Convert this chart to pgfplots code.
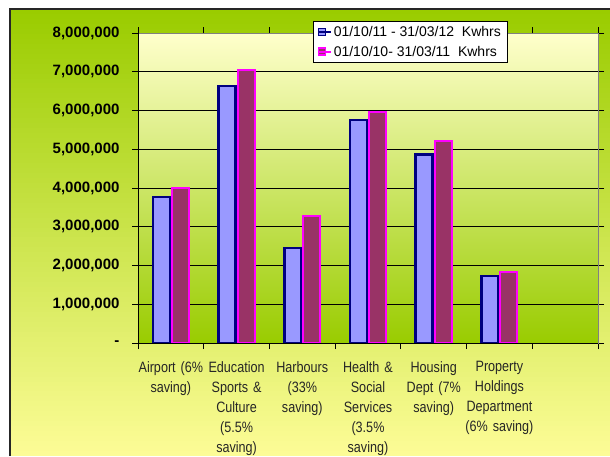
\documentclass[border=0pt]{standalone}
\usepackage{pgfplots}
\pgfplotsset{compat=1.18}
\usepackage{fontspec}
\setmainfont{Liberation Sans}
\newfontfamily\narrowfont[FakeStretch=0.84]{Liberation Sans}
\definecolor{outertop}{HTML}{9ACC00}
\definecolor{outerbot}{HTML}{FCFC96}
\definecolor{plottop}{HTML}{FFFFCC}
\definecolor{plotbot}{HTML}{99CC00}
\definecolor{bluefill}{HTML}{9999FF}
\definecolor{blueline}{HTML}{000080}
\definecolor{redfill}{HTML}{993366}
\definecolor{redline}{HTML}{FF00FF}
\begin{document}
\begin{tikzpicture}[x=1pt,y=1pt]
\path[use as bounding box] (0,0) rectangle (610,456);
\fill[white] (0,0) rectangle (610,456);
\foreach \i in {0,...,89} {
  \pgfmathsetmacro\p{100*\i/89}
  \pgfmathsetmacro\ya{\i*4.9667}
  \pgfmathsetmacro\yb{(\i+1)*4.9667+0.6}
  \fill[outertop!\p!outerbot] (10,\ya) rectangle (610,\yb);
}
\draw[black!85, line width=1.3pt] (10,0) -- (10,447) -- (610,447);
\begin{axis}[
  at={(138pt,113pt)}, anchor=south west,
  width=460pt, height=310pt, scale only axis,
  axis background/.style={shade, top color=plottop, bottom color=plotbot},
  axis line style={black!50, line width=0.8pt},
  ybar=2pt, bar width=17pt,
  xmin=-0.5, xmax=6.5, ymin=0, ymax=8000000,
  xtick={-0.5,0.5,...,6.5}, xticklabels={},
  extra x ticks={0,1,2,3,4,5},
  extra x tick labels={{Airport (6\%\\saving)},{Education\\Sports \&\\Culture\\(5.5\%\\saving)},{Harbours\\(33\%\\saving)},{Health \&\\Social\\Services\\(3.5\%\\saving)},{Housing\\Dept (7\%\\saving)},{Property\\Holdings\\Department\\(6\% saving)}},
  extra x tick style={major tick length=0pt, grid=none, xticklabel style={align=center, text width=72pt, font=\narrowfont\fontsize{15}{20}\selectfont, text=black!85, yshift=-15pt}},
  ytick={0,1000000,2000000,3000000,4000000,5000000,6000000,7000000,8000000},
  yticklabels={-,{1,000,000},{2,000,000},{3,000,000},{4,000,000},{5,000,000},{6,000,000},{7,000,000},{8,000,000}},
  scaled y ticks=false,
  yticklabel style={font=\bfseries\fontsize{15}{18}\selectfont, xshift=-9pt},
  tick align=outside, major tick length=6pt,
  tick style={black, line width=0.8pt},
  ymajorgrids, grid style={black, line width=0.8pt},
  legend style={at={(0.3804,1.0387)}, anchor=north west, draw=black, line width=0.6pt, fill=white, font=\fontsize{14}{17}\selectfont, row sep=4pt, inner xsep=4pt, inner ysep=3pt},
  legend cell align=left,
  legend image code/.code={\draw[#1, line width=1.6pt] (0pt,-3.5pt) rectangle (7pt,3.5pt); \path (0pt,0pt) -- (12pt,0pt);},
  clip=false,
]
\addplot[fill=bluefill, draw=blueline, line width=2.5pt] coordinates {(0,3770000) (1,6630000) (2,2450000) (3,5750000) (4,4870000) (5,1730000)};
\addplot[fill=redfill, draw=redline, line width=2pt] coordinates {(0,4000000) (1,7050000) (2,3280000) (3,5960000) (4,5210000) (5,1830000)};
\legend{01/10/11 - 31/03/12\ \ Kwhrs, 01/10/10- 31/03/11\ \ Kwhrs}
\draw[black, line width=1pt] (axis description cs:0,0) -- (axis description cs:0,1);
\draw[black, line width=1pt] (axis description cs:0,0) -- (axis description cs:1,0);
\end{axis}
\end{tikzpicture}
\end{document}
